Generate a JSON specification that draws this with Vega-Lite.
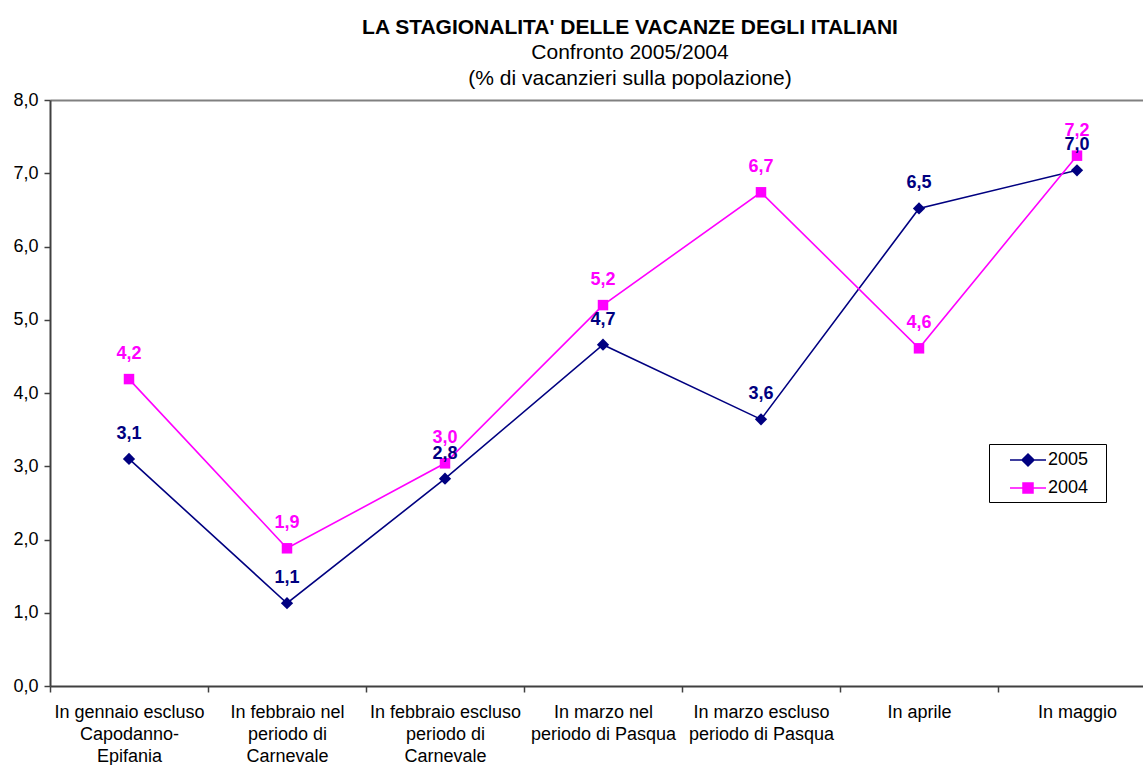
{
  "$schema": "https://vega.github.io/schema/vega-lite/v6.json",
  "width": 1106,
  "height": 586,
  "autosize": {"type": "none"},
  "padding": {"left": 50, "top": 100, "right": 0, "bottom": 90},
  "background": "white",
  "config": {
    "locale": {"number": {"decimal": ",", "thousands": ".", "grouping": [3], "currency": ["€", ""]}},
    "view": {"stroke": null},
    "font": "Liberation Sans"
  },
  "title": {
    "text": "LA STAGIONALITA' DELLE VACANZE DEGLI ITALIANI",
    "subtitle": ["Confronto 2005/2004", "(% di vacanzieri sulla popolazione)"],
    "anchor": "middle",
    "frame": "group",
    "dx": 27,
    "offset": 2,
    "font": "Liberation Sans",
    "fontSize": 21,
    "fontWeight": "bold",
    "color": "black",
    "subtitleFont": "Liberation Sans",
    "subtitleFontSize": 21,
    "subtitleColor": "black",
    "subtitlePadding": 4,
    "subtitleLineHeight": 26
  },
  "data": {
    "values": [
      {"periodo": "In gennaio escluso|Capodanno-|Epifania", "anno": "2005", "valore": 3.1},
      {"periodo": "In febbraio nel|periodo di|Carnevale", "anno": "2005", "valore": 1.13},
      {"periodo": "In febbraio escluso|periodo di|Carnevale", "anno": "2005", "valore": 2.83},
      {"periodo": "In marzo nel|periodo di Pasqua", "anno": "2005", "valore": 4.66},
      {"periodo": "In marzo escluso|periodo di Pasqua", "anno": "2005", "valore": 3.64},
      {"periodo": "In aprile", "anno": "2005", "valore": 6.52},
      {"periodo": "In maggio", "anno": "2005", "valore": 7.04},
      {"periodo": "In gennaio escluso|Capodanno-|Epifania", "anno": "2004", "valore": 4.19},
      {"periodo": "In febbraio nel|periodo di|Carnevale", "anno": "2004", "valore": 1.88},
      {"periodo": "In febbraio escluso|periodo di|Carnevale", "anno": "2004", "valore": 3.04},
      {"periodo": "In marzo nel|periodo di Pasqua", "anno": "2004", "valore": 5.2},
      {"periodo": "In marzo escluso|periodo di Pasqua", "anno": "2004", "valore": 6.74},
      {"periodo": "In aprile", "anno": "2004", "valore": 4.61},
      {"periodo": "In maggio", "anno": "2004", "valore": 7.24}
    ]
  },
  "encoding": {
    "x": {
      "field": "periodo",
      "type": "nominal",
      "sort": null,
      "scale": {"type": "band", "paddingInner": 0, "paddingOuter": 0},
      "axis": {
        "title": null,
        "labelAngle": 0,
        "labelExpr": "split(datum.label, '|')",
        "labelFont": "Liberation Sans",
        "labelFontSize": 18,
        "labelColor": "black",
        "labelLineHeight": 22,
        "labelPadding": 11,
        "labelBaseline": "top",
        "tickBand": "extent",
        "tickSize": 6,
        "tickColor": "#404040",
        "domainColor": "#404040",
        "domainWidth": 2,
        "tickWidth": 1.5,
        "labelLimit": 0
      }
    },
    "y": {
      "field": "valore",
      "type": "quantitative",
      "scale": {"domain": [0, 8], "nice": false},
      "axis": {
        "title": null,
        "values": [0, 1, 2, 3, 4, 5, 6, 7, 8],
        "format": ".1f",
        "labelFont": "Liberation Sans",
        "labelFontSize": 18,
        "labelColor": "black",
        "labelPadding": 6,
        "tickSize": 6,
        "tickColor": "#404040",
        "tickWidth": 1.5,
        "domainColor": "#404040",
        "domainWidth": 2,
        "grid": true,
        "gridColor": "#808080",
        "gridWidth": 2,
        "gridOpacity": {"expr": "datum.value == 8 ? 1 : 0"}
      }
    },
    "color": {
      "field": "anno",
      "type": "nominal",
      "scale": {"domain": ["2005", "2004"], "range": ["#000080", "#FF00FF"]},
      "legend": {
        "title": "\u00a0",
        "titleOrient": "right",
        "titlePadding": 13,
        "titleFontSize": 18,
        "orient": "none",
        "legendX": 939,
        "legendY": 344,
        "strokeColor": "black",
        "fillColor": "white",
        "padding": 5,
        "symbolType": "M-1.8,0H1.8M0,-0.6L0.6,0L0,0.6L-0.6,0Z",
        "symbolSize": 400,
        "symbolOffset": 23,
        "symbolStrokeWidth": 1.5,
        "symbolOpacity": 1,
        "labelFont": "Liberation Sans",
        "labelFontSize": 18,
        "labelColor": "black",
        "rowPadding": 8,
        "labelOffset": 9,
        "encode": {
          "symbols": {
            "update": {
              "shape": {"signal": "datum.value == '2005' ? 'M-1.8,0H1.8M0,-0.6L0.6,0L0,0.6L-0.6,0Z' : 'M-1.8,0H1.8M-0.5,-0.5H0.5V0.5H-0.5Z'"},
              "size": {"value": 400},
              "stroke": {"signal": "datum.value == '2005' ? '#000080' : '#FF00FF'"},
              "fill": {"signal": "datum.value == '2005' ? '#000080' : '#FF00FF'"},
              "strokeWidth": {"value": 1.5},
              "opacity": {"value": 1},
              "fillOpacity": {"value": 1},
              "strokeOpacity": {"value": 1}
            }
          }
        }
      }
    }
  },
  "layer": [
    {
      "mark": {"type": "line", "strokeWidth": 1.6}
    },
    {
      "transform": [{"filter": "datum.anno == '2005'"}],
      "mark": {"type": "point", "filled": true, "opacity": 1, "shape": "diamond", "size": 150}
    },
    {
      "transform": [{"filter": "datum.anno == '2004'"}],
      "mark": {"type": "point", "filled": true, "opacity": 1, "shape": "square", "size": 110}
    },
    {
      "mark": {"type": "text", "dy": -25, "fontSize": 18, "fontWeight": "bold", "font": "Liberation Sans"},
      "encoding": {
        "text": {"field": "valore", "type": "quantitative", "format": ".1f"}
      }
    }
  ]
}
